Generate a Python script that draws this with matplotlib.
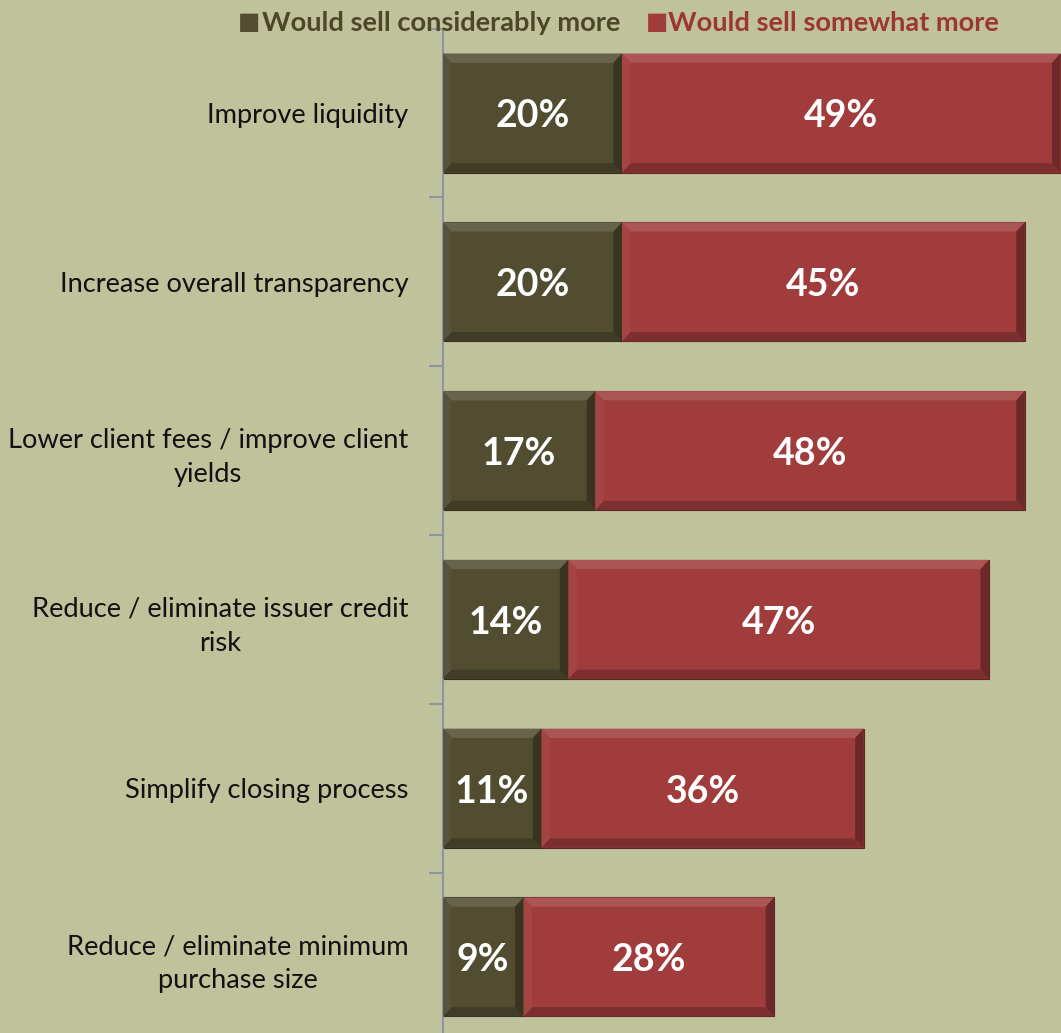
import numpy as np
import matplotlib.pyplot as plt
from matplotlib.patches import Polygon

plt.rcParams['font.family'] = ['Lato', 'DejaVu Sans']

categories = [
    "Improve liquidity",
    "Increase overall transparency",
    "Lower client fees / improve client\nyields",
    "Reduce / eliminate issuer credit\nrisk",
    "Simplify closing process",
    "Reduce / eliminate minimum\npurchase size",
]
considerably_more = [20, 20, 17, 14, 11, 9]
somewhat_more = [49, 45, 48, 47, 36, 28]
series_names = ["Would sell considerably more", "Would sell somewhat more"]

BG = "#c0c29c"
DARK = "#524d31"
RED = "#a03c3c"
DARK_TEXT = "#4b4829"
RED_TEXT = "#9c3535"


def shade(color, f):
    c = np.array(plt.matplotlib.colors.to_rgb(color))
    if f >= 0:
        c = c + (1 - c) * f
    else:
        c = c * (1 + f)
    return tuple(np.clip(c, 0, 1))


def bevel_bar(ax, y, left, width, height, color, bx, by):
    # flat face plus four trapezoid edges for the embossed look
    ax.barh(y, width, left=left, height=height, color=color,
            edgecolor=shade(color, -0.4), linewidth=0.8, zorder=2)
    x0, x1 = left, left + width
    y0, y1 = y - height / 2, y + height / 2
    bx = min(bx, width / 3)
    edges = [
        ([(x0, y0), (x1, y0), (x1 - bx, y0 + by), (x0 + bx, y0 + by)], 0.13),   # top
        ([(x0, y1), (x1, y1), (x1 - bx, y1 - by), (x0 + bx, y1 - by)], -0.22),  # bottom
        ([(x0, y0), (x0 + bx, y0 + by), (x0 + bx, y1 - by), (x0, y1)], 0.04),   # left
        ([(x1, y0), (x1 - bx, y0 + by), (x1 - bx, y1 - by), (x1, y1)], -0.32),  # right
    ]
    for pts, f in edges:
        ax.add_patch(Polygon(pts, closed=True, facecolor=shade(color, f),
                             edgecolor='none', zorder=3))


fig = plt.figure(figsize=(10.61, 10.33), dpi=100)
fig.patch.set_facecolor(BG)
ax = fig.add_axes([0.4175, -0.0081, 0.5825, 0.9804])
ax.set_facecolor(BG)

y = np.arange(len(categories))
bar_h = 0.705
bx = 0.95
by = 0.055
for i in y:
    bevel_bar(ax, i, 0, considerably_more[i], bar_h, DARK, bx, by)
    bevel_bar(ax, i, considerably_more[i], somewhat_more[i], bar_h, RED, bx, by)
    ax.text(considerably_more[i] / 2, i + 0.02, f"{considerably_more[i]}%", ha='center',
            va='center', color='white', fontsize=27, fontweight='bold', zorder=4)
    ax.text(considerably_more[i] + somewhat_more[i] / 2, i + 0.02, f"{somewhat_more[i]}%",
            ha='center', va='center', color='white', fontsize=27, fontweight='bold', zorder=4)

ax.set_xlim(0, 69.05)
ax.set_ylim(len(categories) - 0.5, -0.5)
for s in ['top', 'right', 'bottom']:
    ax.spines[s].set_visible(False)
ax.spines['left'].set_color('#8d96a0')
ax.spines['left'].set_linewidth(1.5)
ax.set_xticks([])
ax.set_yticks(np.arange(len(categories) + 1) - 0.5, minor=True)
ax.set_yticks(y)
ax.set_yticklabels(categories, fontsize=19.6, color='#111111', ha='right',
                   multialignment='center', linespacing=1.45)
ax.tick_params(axis='y', which='major', length=0, pad=25)
ax.tick_params(axis='y', which='minor', length=10, width=1.5, color='#8d96a0')

# legend drawn as coloured text with square swatches
leg_y = 0.978
fig.text(0.2245, leg_y, "\u25A0", color=DARK, fontsize=17, va='center', ha='left')
fig.text(0.247, leg_y, series_names[0], color=DARK_TEXT, fontsize=19.6,
         fontweight='bold', va='center', ha='left')
fig.text(0.6085, leg_y, "\u25A0", color=RED, fontsize=17, va='center', ha='left')
fig.text(0.6296, leg_y, series_names[1], color=RED_TEXT, fontsize=19.6,
         fontweight='bold', va='center', ha='left')

fig.savefig("out.png", dpi=100, facecolor=BG)
